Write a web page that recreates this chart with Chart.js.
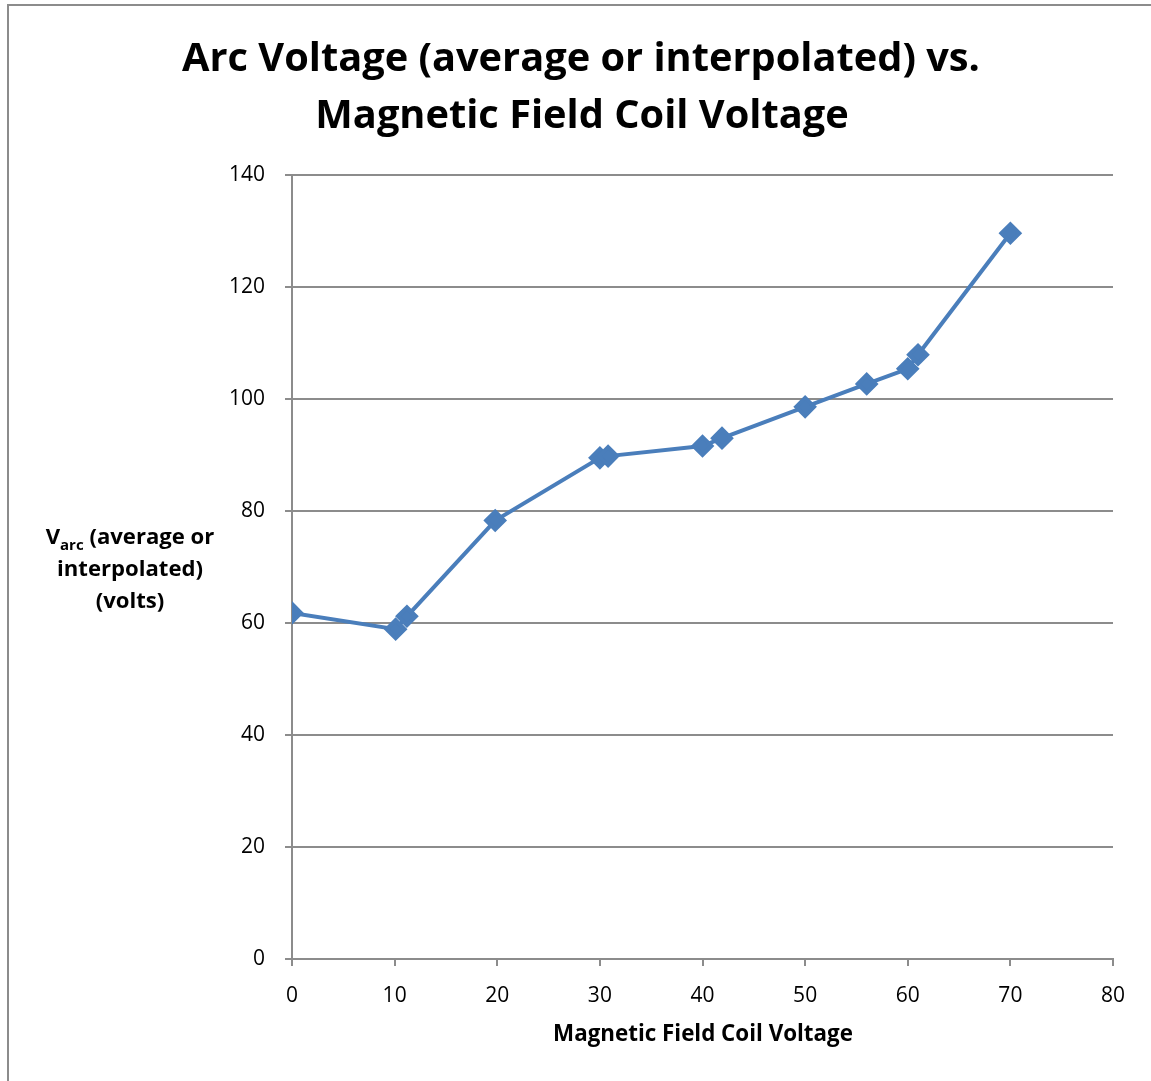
<!DOCTYPE html>
<html>
<head>
<meta charset="utf-8">
<script src="https://cdn.jsdelivr.net/npm/chart.js@4"></script>
<style>
  html, body { margin: 0; padding: 0; background: #fff; }
  #wrap { width: 1151px; height: 1081px; position: relative; }
</style>
</head>
<body>
<div id="wrap"><canvas id="arcChart" width="1151" height="1081"></canvas></div>
<script>
// values
const coilVolts = [0, 10.1, 11.2, 19.8, 30, 30.8, 40, 41.9, 50, 56, 60, 61, 70];
const arcVolts = [61.8, 58.9, 61.2, 78.3, 89.5, 89.8, 91.6, 93.0, 98.6, 102.7, 105.4, 107.9, 129.6];
const titleLines = ['Arc Voltage (average or interpolated) vs.', 'Magnetic Field Coil Voltage'];
const xTitle = 'Magnetic Field Coil Voltage';

const pts = coilVolts.map((x, i) => ({x: x, y: arcVolts[i]}));
const font = '"Open Sans", sans-serif';

// pick a bold size so the text fills the given width
function fitSize(c, text, width) {
    c.font = 'bold 100px ' + font;
    return 100 * width / c.measureText(text).width;
}

const decor = {
    id: 'decor',
    afterDraw(chart) {
        const c = chart.ctx;
        c.save();
        c.strokeStyle = '#8c8c8c';
        c.lineWidth = 2;
        c.beginPath();
        c.moveTo(8, 1081);
        c.lineTo(8, 5);
        c.lineTo(1151, 5);
        c.stroke();

        c.fillStyle = '#000';
        c.textAlign = 'center';
        c.textBaseline = 'middle';
        let ts = fitSize(c, titleLines[0], 798);
        c.font = 'bold ' + ts + 'px ' + font;
        c.fillText(titleLines[0], 581, 60);
        c.fillText(titleLines[1], 582, 117);

        // x title
        let xs = fitSize(c, xTitle, 300);
        c.font = 'bold ' + xs + 'px ' + font;
        c.fillText(xTitle, 703, 1035);

        // y label: V_arc (average or / interpolated) / (volts)
        let ls = fitSize(c, 'interpolated)', 146);
        const big = 'bold ' + ls + 'px ' + font;
        const small = 'bold ' + (ls * 0.68) + 'px ' + font;
        const rest = ' (average or';
        c.font = big;
        const vw = c.measureText('V').width;
        const rw = c.measureText(rest).width;
        c.font = small;
        const sw = c.measureText('arc').width;
        let x0 = 130 - (vw + sw + rw) / 2;
        c.textAlign = 'left';
        c.font = big;
        c.fillText('V', x0, 538);
        c.font = small;
        c.fillText('arc', x0 + vw, 546);
        c.font = big;
        c.fillText(rest, x0 + vw + sw, 538);
        c.textAlign = 'center';
        c.fillText('interpolated)', 130, 570);
        c.fillText('(volts)', 130, 602);
        c.restore();
    }
};

let ctx = document.getElementById('arcChart');
new Chart(ctx, {
    type: 'scatter',
    data: {
        datasets: [{
            data: pts,
            showLine: true,
            borderColor: '#4a7ebb',
            backgroundColor: '#4a7ebb',
            borderWidth: 4,
            pointStyle: 'rectRot',
            pointRadius: 9,
            pointHoverRadius: 9,
            tension: 0
        }]
    },
    options: {
        responsive: false,
        animation: false,
        layout: { padding: { top: 175, left: 0, right: 38, bottom: 0 } },
        plugins: {
            legend: { display: false },
            title: { display: false },
            tooltip: { enabled: false }
        },
        scales: {
            x: {
                type: 'linear',
                min: 0, max: 80,
                ticks: { stepSize: 10, color: '#000', font: { family: font, size: 21 }, padding: 17 },
                grid: { drawOnChartArea: false, color: '#8c8c8c', lineWidth: 2, tickLength: 7 },
                border: { color: '#8c8c8c', width: 2 },
                afterFit: (s) => { s.height = 122; }
            },
            y: {
                min: 0, max: 140,
                ticks: { stepSize: 20, color: '#000', font: { family: font, size: 21 }, padding: 20 },
                grid: { color: '#8c8c8c', lineWidth: 2, tickLength: 7 },
                border: { color: '#8c8c8c', width: 2 },
                afterFit: (s) => { s.width = 292; }
            }
        }
    },
    plugins: [decor]
});
</script>
</body>
</html>
